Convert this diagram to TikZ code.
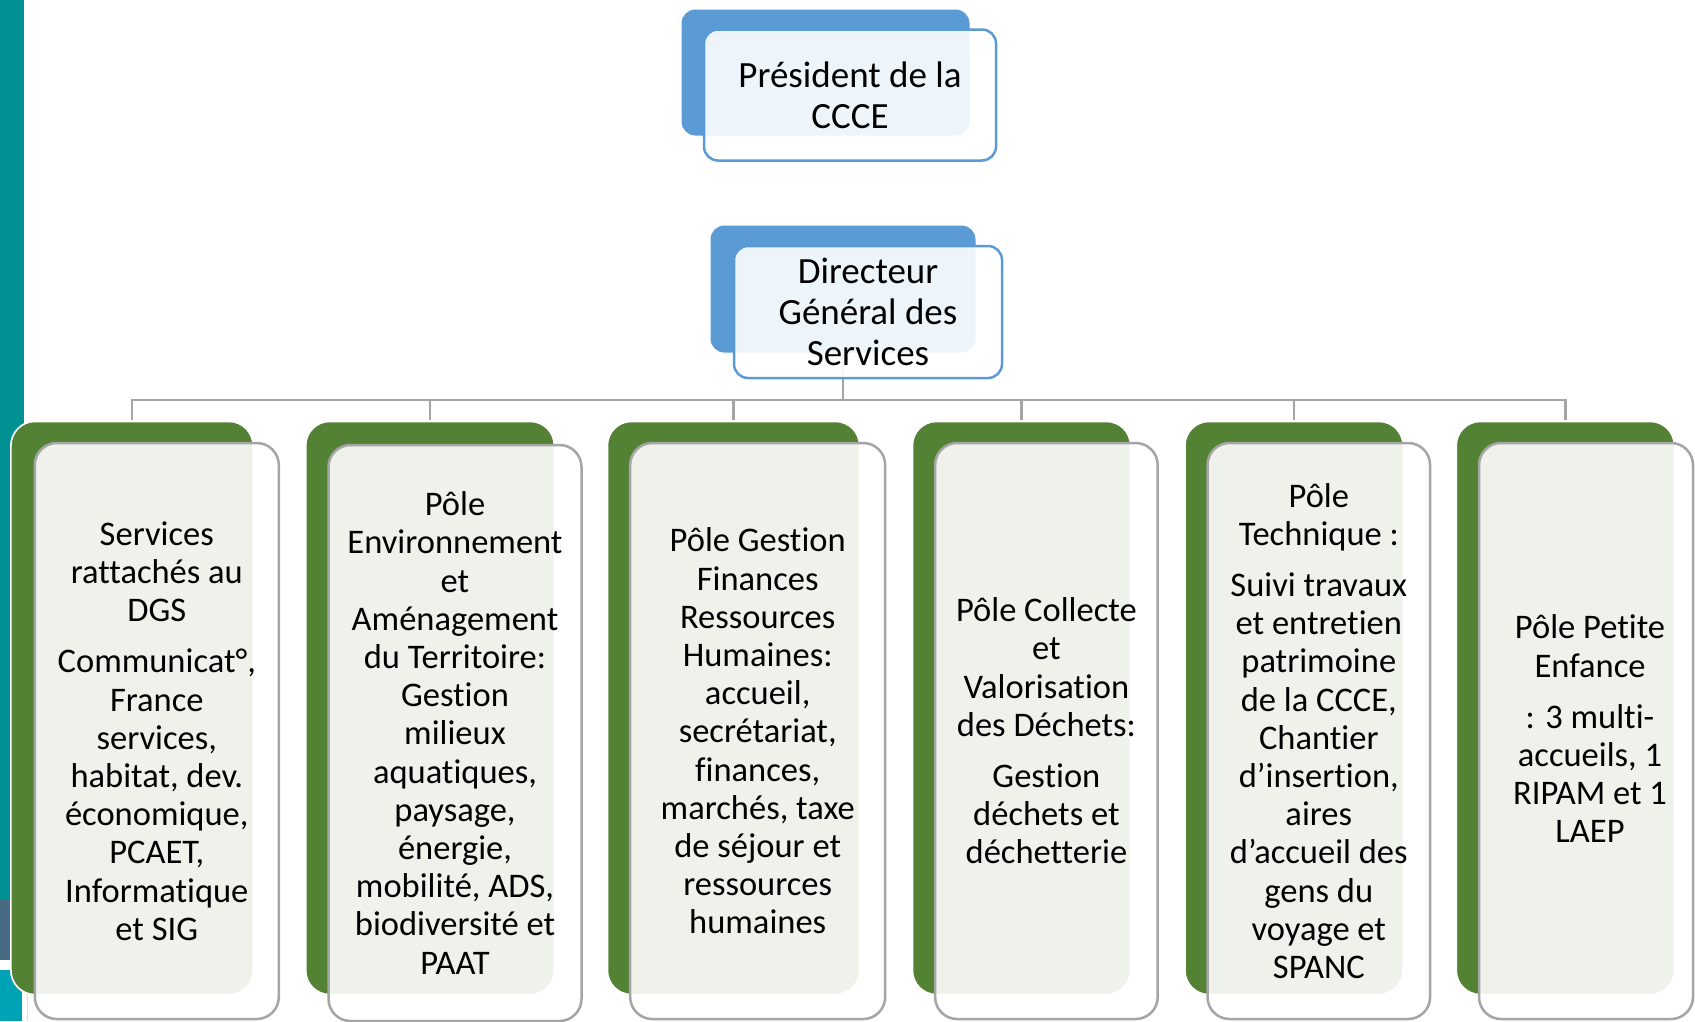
\documentclass[tikz,border=0pt]{standalone}
\usepackage{fontspec}
\setmainfont{Carlito}[Ligatures={NoCommon}]
\definecolor{teal1}{HTML}{009193}
\definecolor{slate1}{HTML}{466B82}
\definecolor{cyan1}{HTML}{00A3B5}
\definecolor{blueA}{HTML}{5B9BD5}
\definecolor{greenA}{HTML}{548235}
\definecolor{greyA}{HTML}{A5A5A5}
\tikzset{
  conn/.style={draw=greyA, line width=2.6bp},
  bluebox/.style={fill=blueA, draw=white, line width=1bp, rounded corners=14bp, inner sep=0pt},
  bluefront/.style={fill=white, fill opacity=0.9, text opacity=1, draw=blueA, line width=2.5bp, rounded corners=14bp, inner sep=0pt, align=center, font=\fontsize{37bp}{41bp}\selectfont},
  greenbox/.style={fill=greenA, draw=white, line width=1.5bp, rounded corners=24bp, inner sep=0pt, minimum height=573bp},
  greenfront/.style={fill=white, fill opacity=0.9, text opacity=1, draw=greyA, line width=2.5bp, rounded corners=22bp, inner sep=0pt, minimum height=576bp, align=center, font=\fontsize{34.5bp}{38.2bp}\selectfont},
  greentext/.style={inner sep=0pt, align=center, font=\fontsize{34.5bp}{38.2bp}\selectfont},
}
\begin{document}
\begin{tikzpicture}[x=1bp,y=-1bp]
\useasboundingbox (0,0) rectangle (1695,1021);
% left decorative bar
\fill[teal1] (0,0) rectangle (24,900);
\fill[slate1] (0,900) rectangle (24,960);
\fill[cyan1] (0,970) rectangle (22,1021);
\draw[black!12, line width=1bp] (27,962) -- (27,1021);

% president
\node[bluebox, minimum width=289bp, minimum height=127bp] (presb) at (825.5,72.5) {};
\node[bluefront, minimum width=292bp, minimum height=131bp] (pres) at (850,95) {Président de la\\CCCE};

% DGS back box and connectors
\node[bluebox, minimum width=266bp, minimum height=128bp] (dgb) at (843,289) {};
\coordinate (bus) at (843,400);
\draw[conn] (dgb.south) -- (bus);

% children back boxes
\node[greenbox, minimum width=242bp] (c1b) at (132,708) {};
\node[greenbox, minimum width=248.5bp] (c2b) at (430,708) {};
\node[greenbox, minimum width=252bp] (c3b) at (733.5,708) {};
\node[greenbox, minimum width=218bp] (c4b) at (1021.5,708) {};
\node[greenbox, minimum width=218bp] (c5b) at (1294,708) {};
\node[greenbox, minimum width=218bp] (c6b) at (1565.3,708) {};

\foreach \c in {c1b,c2b,c3b,c4b,c5b,c6b}{
  \draw[conn] (bus) -| ([yshift=1bp]\c.north);
}
% redraw back boxes over connector ends
\node[greenbox, minimum width=242bp] at (132,708) {};
\node[greenbox, minimum width=248.5bp] at (430,708) {};
\node[greenbox, minimum width=252bp] at (733.5,708) {};
\node[greenbox, minimum width=218bp] at (1021.5,708) {};
\node[greenbox, minimum width=218bp] at (1294,708) {};
\node[greenbox, minimum width=218bp] at (1565.3,708) {};

% DGS front
\node[bluefront, minimum width=268bp, minimum height=132bp] (dg) at (868,312) {Directeur\\Général des\\Services};

% children front boxes
\node[greenfront, minimum width=244bp] (c1) at (156.8,731) {Services\\rattachés au\\DGS\\[13bp]Communicat°,\\France\\services,\\habitat, dev.\\économique,\\PCAET,\\Informatique\\et SIG};
\node[greenfront, minimum width=253bp] (c2) at (455,733) {Pôle\\Environnement\\et\\Aménagement\\du Territoire:\\Gestion\\milieux\\aquatiques,\\paysage,\\énergie,\\mobilité, ADS,\\biodiversité et\\PAAT};
\node[greenfront, minimum width=255bp] (c3) at (757.7,731) {Pôle Gestion\\Finances\\Ressources\\Humaines:\\accueil,\\secrétariat,\\finances,\\marchés, taxe\\de séjour et\\ressources\\humaines};
\node[greenfront, minimum width=222.6bp] (c4) at (1046.4,731) {Pôle Collecte\\et\\Valorisation\\des Déchets:\\[13bp]Gestion\\déchets et\\déchetterie};
\node[greenfront, minimum width=222.6bp] (c5) at (1318.8,731) {Pôle\\Technique :\\[13bp]Suivi travaux\\et entretien\\patrimoine\\de la CCCE,\\Chantier\\d’insertion,\\aires\\d’accueil des\\gens du\\voyage et\\SPANC};
\node[greenfront, minimum width=214bp] (c6) at (1586,731) {};
\node[greentext] (c6t) at (1590,729) {Pôle Petite\\Enfance\\[13bp]: 3 multi-\\accueils, 1\\RIPAM et 1\\LAEP};
\end{tikzpicture}
\end{document}
